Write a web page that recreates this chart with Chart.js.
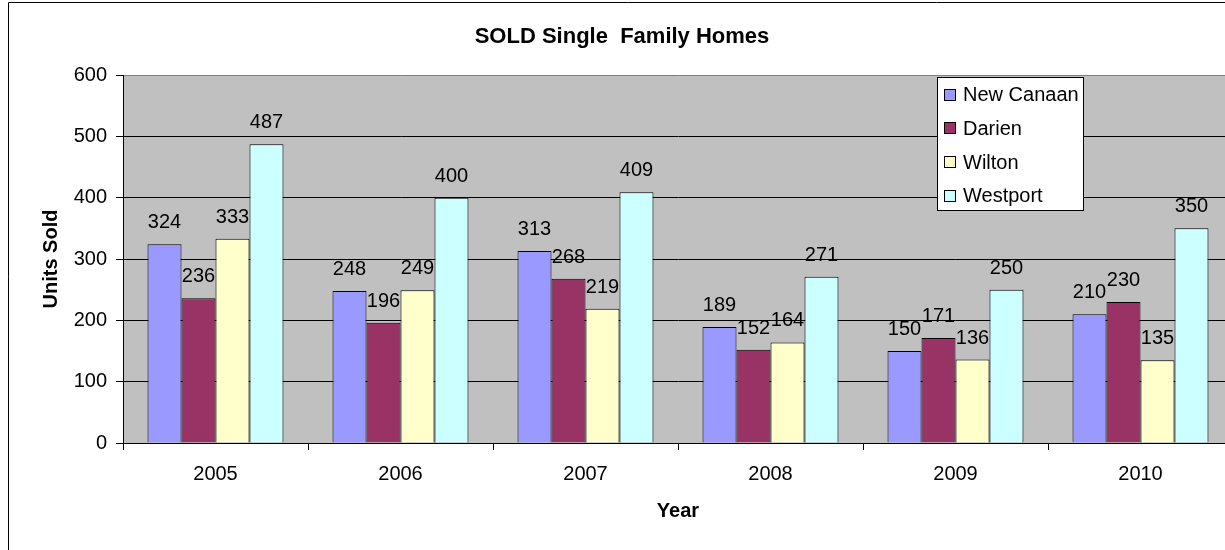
<!DOCTYPE html>
<html>
<head>
<meta charset="utf-8">
<script src="https://cdn.jsdelivr.net/npm/chart.js@4.4.1/dist/chart.umd.min.js"></script>
<style>
  html, body { margin: 0; padding: 0; background: #fff; overflow: hidden; }
  #wrap { width: 1225px; height: 550px; overflow: hidden; position: relative; }
  canvas { display: block; }
</style>
</head>
<body>
<div id="wrap"><canvas id="c" width="1245" height="550"></canvas></div>
<script>
const years = ['2005', '2006', '2007', '2008', '2009', '2010'];
const newCanaan = [324, 248, 313, 189, 150, 210];
const darien = [236, 196, 268, 152, 171, 230];
const wilton = [333, 249, 219, 164, 136, 135];
const westport = [487, 400, 409, 271, 250, 350];
const seriesNames = ['New Canaan', 'Darien', 'Wilton', 'Westport'];
const seriesColors = ['#9999FF', '#993366', '#FFFFCC', '#CCFFFF'];
const yTicks = [0, 100, 200, 300, 400, 500, 600];
const chartTitle = 'SOLD Single  Family Homes';
const yTitle = 'Units Sold';
const xTitle = 'Year';

const FONT = '"Liberation Sans", Arial, sans-serif';

const decorPlugin = {
  id: 'decor',
  beforeDraw(chart) {
    const { ctx, chartArea: a } = chart;
    ctx.save();
    ctx.fillStyle = '#C0C0C0';
    ctx.fillRect(a.left, a.top, a.right - a.left, a.bottom - a.top);
    ctx.restore();
  },
  beforeDatasetsDraw(chart) {
    const ctx = chart.ctx;
    ctx.save();
    ctx.font = '20px ' + FONT;
    ctx.fillStyle = '#000';
    ctx.textAlign = 'center';
    ctx.textBaseline = 'alphabetic';
    chart.data.datasets.forEach((ds, i) => {
      const meta = chart.getDatasetMeta(i);
      meta.data.forEach((bar, j) => {
        ctx.fillText(String(ds.data[j]), bar.x, bar.y - 16);
      });
    });
    ctx.restore();
  },
  afterDraw(chart) {
    const { ctx, chartArea: a } = chart;
    ctx.save();
    // outer chart border
    ctx.strokeStyle = '#000';
    ctx.lineWidth = 1;
    ctx.beginPath();
    ctx.moveTo(8.5, 560);
    ctx.lineTo(8.5, 2.5);
    ctx.lineTo(1260, 2.5);
    ctx.stroke();
    // title
    ctx.fillStyle = '#000';
    ctx.font = 'bold 22px ' + FONT;
    ctx.textAlign = 'center';
    ctx.textBaseline = 'alphabetic';
    ctx.fillText(chartTitle, 622, 43);
    // x title
    ctx.font = 'bold 20px ' + FONT;
    ctx.fillText(xTitle, (a.left + a.right) / 2, 517);
    // y title
    ctx.save();
    ctx.translate(57, (a.top + a.bottom) / 2);
    ctx.rotate(-Math.PI / 2);
    ctx.fillText(yTitle, 0, 0);
    ctx.restore();
    // legend
    const lx = 937, ly = 77, lw = 147, lh = 134;
    ctx.fillStyle = '#fff';
    ctx.fillRect(lx, ly, lw, lh);
    ctx.strokeStyle = '#000';
    ctx.strokeRect(lx + 0.5, ly + 0.5, lw - 1, lh - 1);
    ctx.font = '20px ' + FONT;
    ctx.textAlign = 'left';
    chart.data.datasets.forEach((ds, i) => {
      const cy = 94.5 + i * 33.8;
      ctx.fillStyle = ds.backgroundColor;
      ctx.fillRect(944.5, Math.round(cy - 6) + 0.5, 11, 11);
      ctx.strokeStyle = '#000';
      ctx.strokeRect(944.5, Math.round(cy - 6) + 0.5, 11, 11);
      ctx.fillStyle = '#000';
      ctx.fillText(ds.label, 963, cy + 6.5);
    });
    ctx.restore();
  }
};

const datasets = [newCanaan, darien, wilton, westport].map((d, i) => ({
  label: seriesNames[i],
  data: d,
  backgroundColor: seriesColors[i],
  borderColor: '#000',
  borderWidth: 1,
  barPercentage: 1.0,
  categoryPercentage: 0.735
}));

new Chart(document.getElementById('c'), {
  type: 'bar',
  data: { labels: years, datasets },
  options: {
    responsive: false,
    animation: false,
    layout: { padding: { left: 0, right: 12, top: 75, bottom: 0 } },
    plugins: {
      legend: { display: false },
      title: { display: false },
      tooltip: { enabled: false }
    },
    scales: {
      x: {
        afterFit(scale) { scale.height = 107; },
        grid: {
          offset: true,
          drawOnChartArea: false,
          drawTicks: true,
          tickLength: 7,
          tickColor: '#000',
          color: '#000'
        },
        border: { display: true, color: '#000', width: 1 },
        ticks: {
          color: '#000',
          font: { family: FONT, size: 20 },
          padding: 12,
          maxRotation: 0
        }
      },
      y: {
        min: 0,
        max: 600,
        afterFit(scale) { scale.width = 123; },
        afterBuildTicks(scale) { scale.ticks = yTicks.map(v => ({ value: v })); },
        grid: {
          color: (c) => (c.tick && c.tick.value === 600 ? '#808080' : '#000'),
          tickColor: '#000',
          tickLength: 7,
          lineWidth: 1
        },
        border: { display: true, color: '#000', width: 1 },
        ticks: {
          color: '#000',
          font: { family: FONT, size: 20 },
          padding: 9
        }
      }
    }
  },
  plugins: [decorPlugin]
});
</script>
</body>
</html>
